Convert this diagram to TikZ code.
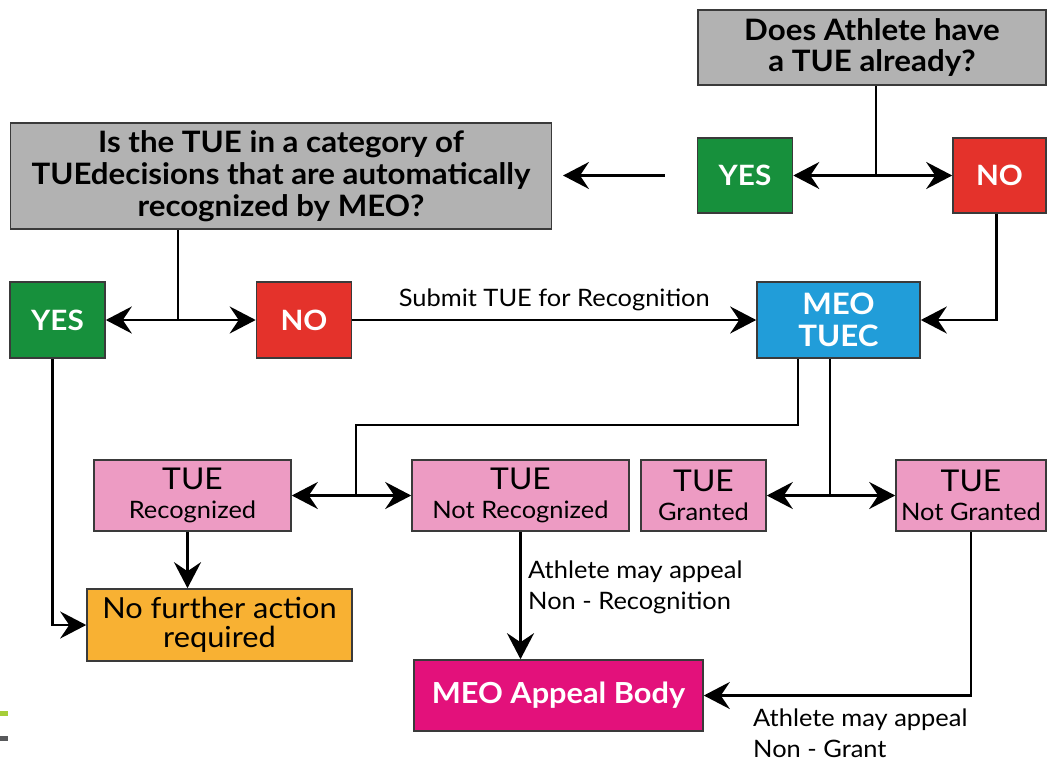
\documentclass[tikz,border=0pt]{standalone}
\usepackage{fontspec}
\setmainfont{Lato}[FakeStretch=1.06]
\usetikzlibrary{arrows.meta}
\definecolor{qgray}{HTML}{B2B2B2}
\definecolor{bord}{HTML}{3A3A3A}
\definecolor{ygreen}{HTML}{17903C}
\definecolor{nred}{HTML}{E4322B}
\definecolor{tblue}{HTML}{219DD9}
\definecolor{tpink}{HTML}{ED9BC3}
\definecolor{forange}{HTML}{F8B133}
\definecolor{amag}{HTML}{E3117B}
\definecolor{dgreen}{HTML}{A6CE39}
\definecolor{dgray}{HTML}{58595B}
\tikzset{
  box/.style={draw=bord, line width=1.6pt, rectangle, inner sep=0pt, align=center},
  qbox/.style={box, fill=qgray, font=\fontsize{29.5}{31}\selectfont\bfseries},
  yesbox/.style={box, fill=ygreen, text=white, font=\fontsize{28}{30}\selectfont\bfseries, minimum width=95pt, minimum height=75pt},
  nobox/.style={box, fill=nred, text=white, font=\fontsize{28}{30}\selectfont\bfseries, minimum width=95pt, minimum height=75pt},
  pbox/.style={box, fill=tpink, minimum height=71pt, font=\fontsize{24}{29}\selectfont},
  conn/.style={line width=2.6pt, draw=black},
  arr/.style={conn, -{Stealth[length=26pt, width=27pt, inset=9pt]}},
  darr/.style={conn, {Stealth[length=26pt, width=27pt, inset=9pt]}-{Stealth[length=26pt, width=27pt, inset=9pt]}},
  lbl/.style={font=\fontsize{24}{31}\selectfont, align=left, inner sep=0pt}
}
\newcommand{\tuebig}{\fontsize{30}{30}\selectfont}
\begin{document}
\begin{tikzpicture}[x=1pt, y=-1pt]
\useasboundingbox (0,0) rectangle (1048,760);
% decorative bars
\fill[dgreen] (0,711) rectangle (8,716);
\fill[dgray] (0,736) rectangle (8,741);
% nodes
\node[qbox, minimum width=348pt, minimum height=75pt] (q1) at (872,47.5) {Does Athlete have\\a TUE already?};
\node[yesbox] (yes1) at (745,175.5) {YES};
\node[nobox, minimum width=93pt] (no1) at (999.5,175.5) {NO};
\node[qbox, font=\fontsize{29.5}{32}\selectfont\bfseries, minimum width=541pt, minimum height=106pt] (q2) at (281,176) {Is the TUE in a category of\\TUEdecisions that are automatically\\recognized by MEO?};
\node[yesbox, minimum height=76pt] (yes2) at (57.5,320) {YES};
\node[nobox, minimum height=76pt] (no2) at (304,320) {NO};
\node[box, fill=tblue, text=white, font=\fontsize{29.5}{32}\selectfont\bfseries, minimum width=163pt, minimum height=76pt] (tuec) at (838.5,320) {MEO\\TUEC};
\node[pbox, minimum width=197pt] (rec) at (192.5,495.5) {{\tuebig TUE}\\Recognized};
\node[pbox, minimum width=217pt] (notrec) at (520.5,495.5) {{\tuebig TUE}\\Not Recognized};
\node[pbox, minimum width=125pt] (granted) at (703.5,495.5) {{\tuebig TUE}\\Granted};
\node[pbox, minimum width=150pt] (notgr) at (971,495.5) {{\tuebig TUE}\\Not Granted};
\node[box, fill=forange, font=\fontsize{29}{29}\selectfont, minimum width=265pt, minimum height=72pt] (nofurther) at (219.5,625) {No further action\\required};
\node[box, fill=amag, text=white, font=\fontsize{29}{30}\selectfont\bfseries, minimum width=289pt, minimum height=71pt] (appeal) at (558.5,695.5) {MEO Appeal Body};
% connectors
\coordinate (j1) at (876,175.5);
\draw[conn] (q1.south -| j1) -- (j1);
\draw[darr] (yes1.east) -- (no1.west);
\coordinate (a0) at ([xshift=-32pt]yes1.west);
\coordinate (a1) at (563,175.5);
\draw[arr] (a0) -- (a1);
\coordinate (j2) at (178,320);
\draw[conn] (q2.south -| j2) -- (j2);
\draw[darr] (yes2.east) -- (no2.west);
\draw[arr] (no2.east) -- node[lbl, above=8pt] (sub) {Submit TUE for Recognition} (tuec.west);
\draw[arr] ([xshift=-3pt]no1.south) |- (tuec.east);
\coordinate (k1) at (798,425);
\coordinate (k2) at (356,425);
\coordinate (k3) at (356,495.5);
\draw[conn] (tuec.south -| k1) -- (k1) -- (k2) -- (k3);
\draw[darr] (rec.east) -- (notrec.west);
\coordinate (k4) at (830,495.5);
\draw[conn] (tuec.south -| k4) -- (k4);
\draw[darr] (granted.east) -- (notgr.west);
\draw[arr] ([xshift=-5pt]rec.south) -- ([xshift=-5pt]rec.south |- nofurther.north);
\draw[arr] ([xshift=-5pt]yes2.south) |- (nofurther.west);
\draw[arr] (notrec.south) -- (notrec.south |- appeal.north);
\node[lbl, anchor=west] (lab1) at (528,587) {Athlete may appeal\\Non - Recognition};
\draw[arr] (notgr.south) |- (appeal.east);
\node[lbl, anchor=west] (lab2) at (753,733) {Athlete may appeal\\Non - Grant};
\end{tikzpicture}
\end{document}
